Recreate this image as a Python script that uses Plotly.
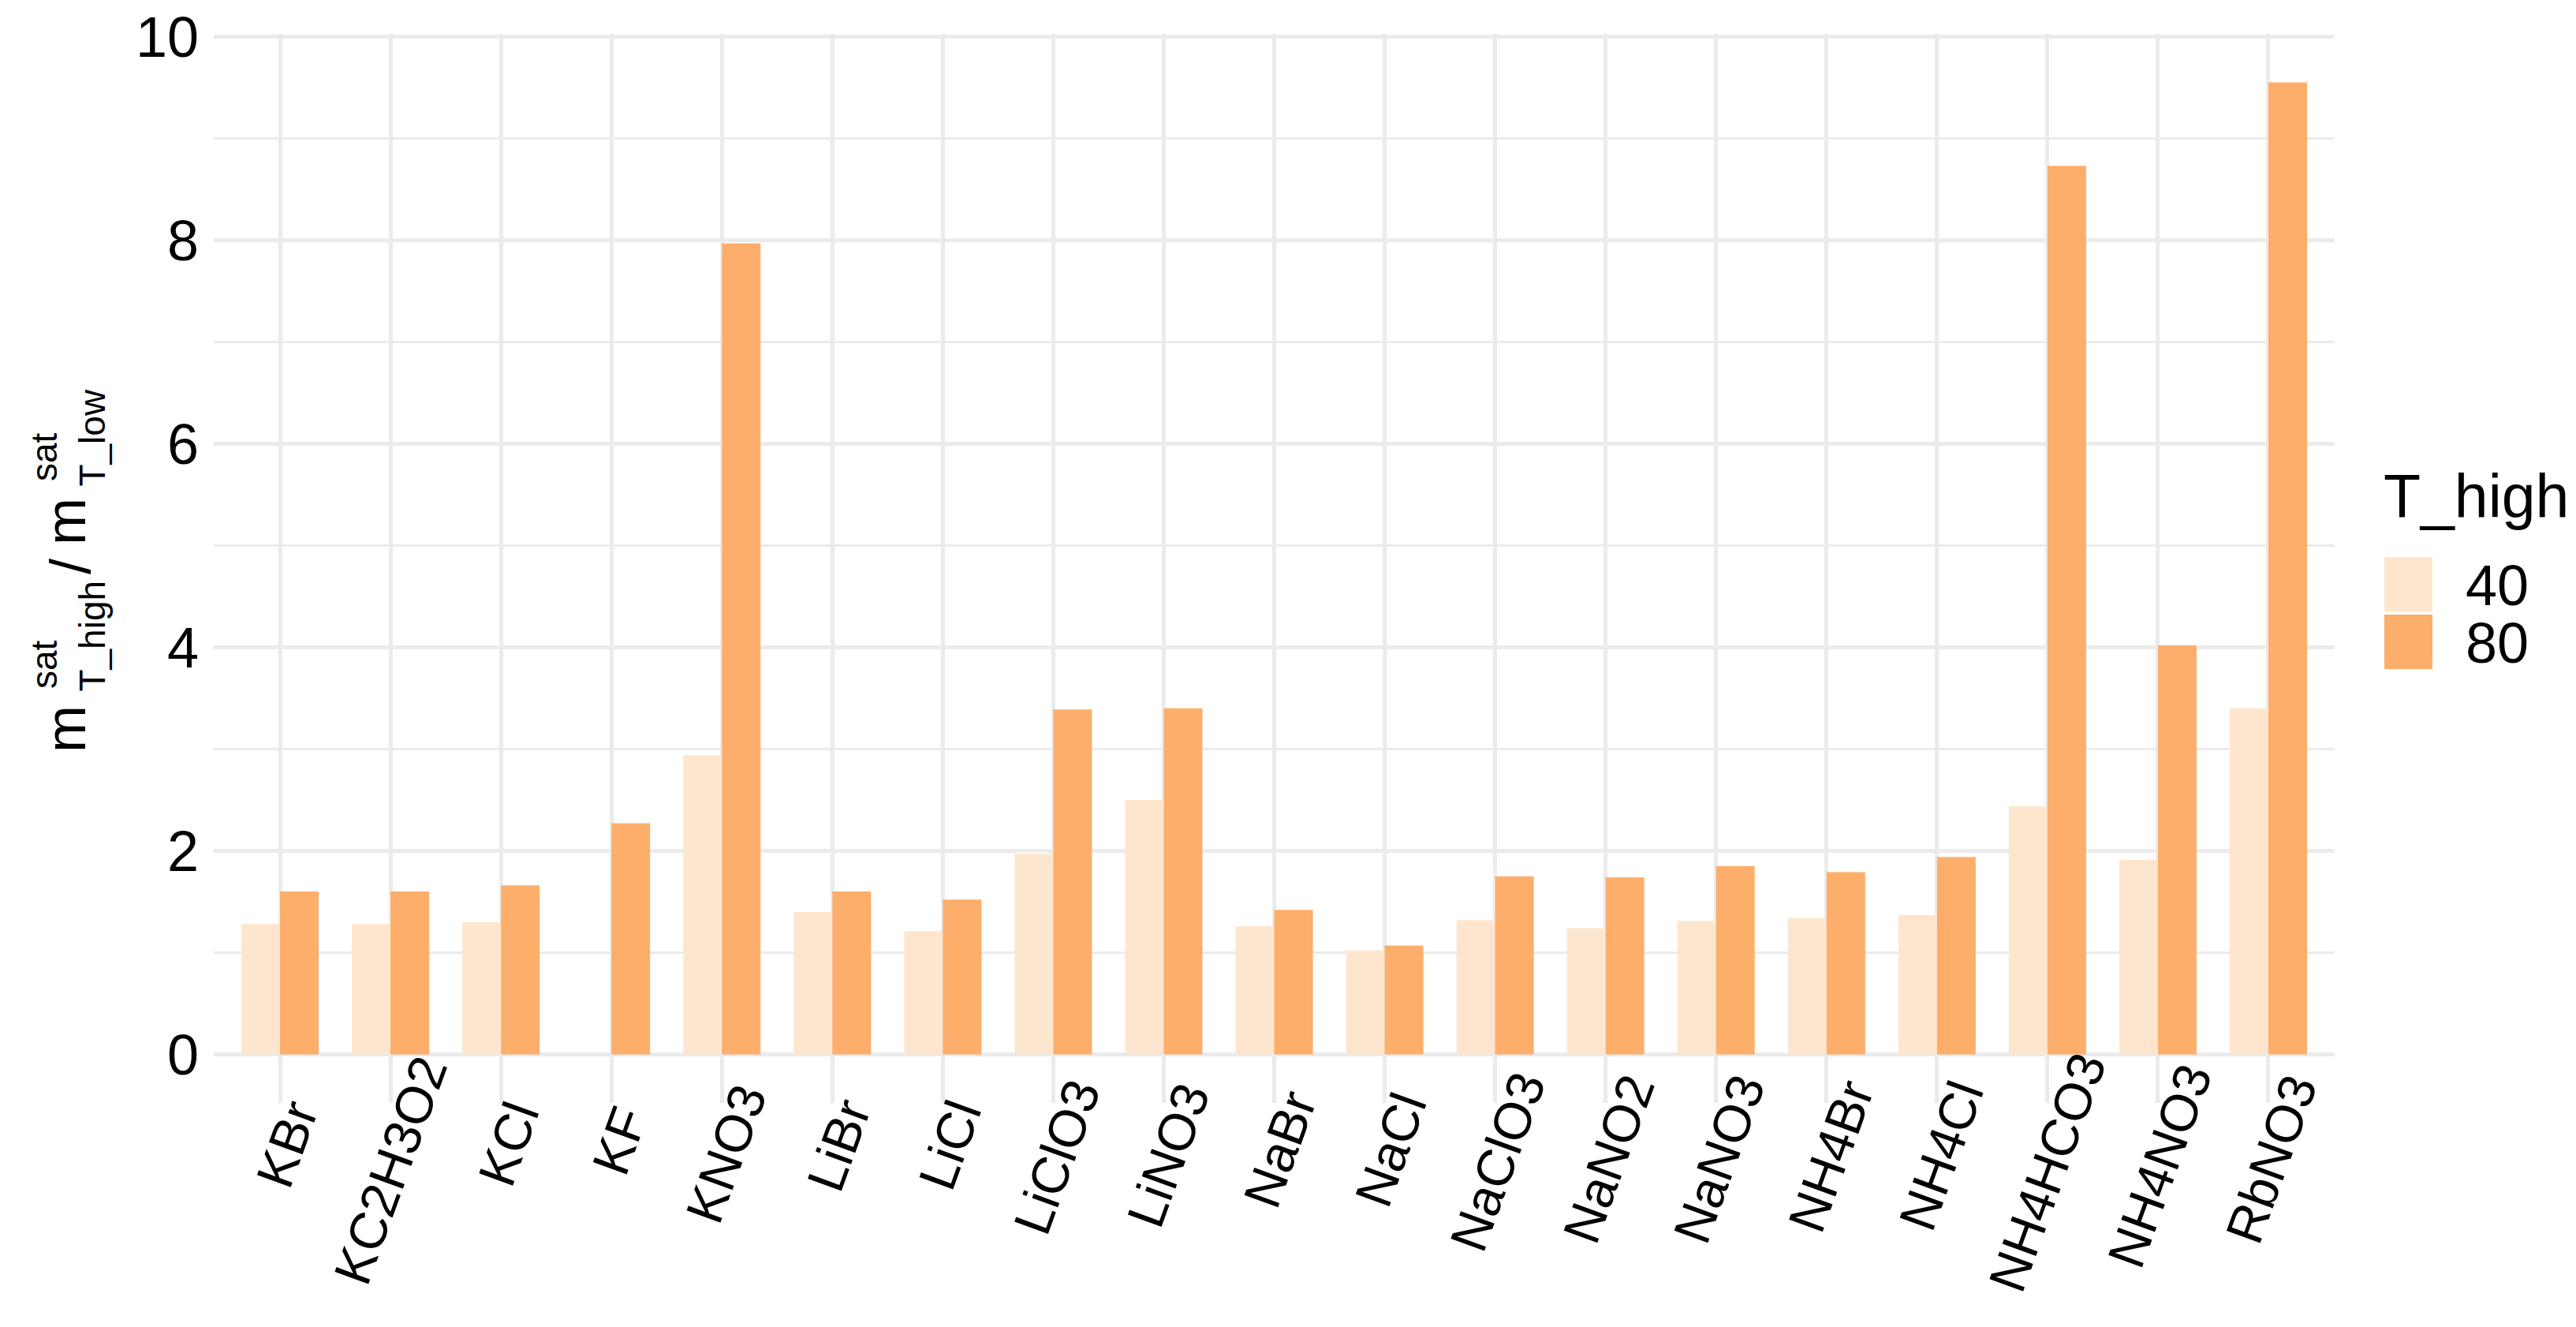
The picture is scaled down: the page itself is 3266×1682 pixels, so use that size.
import plotly.graph_objects as go

salts = ["KBr", "KC2H3O2", "KCl", "KF", "KNO3", "LiBr", "LiCl", "LiClO3", "LiNO3", "NaBr",
         "NaCl", "NaClO3", "NaNO2", "NaNO3", "NH4Br", "NH4Cl", "NH4HCO3", "NH4NO3", "RbNO3"]
ratio_40 = [1.28, 1.28, 1.30, None, 2.94, 1.40, 1.21, 1.97, 2.50, 1.26,
            1.02, 1.32, 1.24, 1.31, 1.34, 1.37, 2.44, 1.91, 3.40]
ratio_80 = [1.60, 1.60, 1.66, 2.27, 7.97, 1.60, 1.52, 3.39, 3.40, 1.42,
            1.07, 1.75, 1.74, 1.85, 1.79, 1.94, 8.73, 4.02, 9.55]
legend_title = "T_high"
legend_labels = ["40", "80"]
y_ticks = [0, 2, 4, 6, 8, 10]

# the page body has an 8px margin, so the figure is drawn 8px smaller and shifted
OFF = 8
W, H = 3266 - 2 * OFF, 1682 - 2 * OFF
L, T = 271 - OFF, 43 - OFF
PW, PH = 2689, 1355
R, B = W - L - PW, H - T - PH
FONT = "Liberation Sans"
colors = ["#FEE6CE", "#FDAE6B"]
grid = "#EBEBEB"

# advance widths (em) of the Helvetica/Arial glyphs used in the salt names,
# needed to place the rotated labels the way ggplot justifies them
char_em = {"K": .667, "B": .667, "r": .333, "C": .722, "2": .556, "H": .722, "3": .556,
           "O": .778, "l": .222, "F": .611, "N": .722, "L": .556, "i": .222, "a": .556,
           "b": .556, "4": .556, "R": .722}


def px2x(px):
    return (px - OFF - L) / PW


def px2y(py):
    return (T + PH - (py - OFF)) / PH


fig = go.Figure()
for name, vals, col in zip(legend_labels, [ratio_40, ratio_80], colors):
    fig.add_trace(go.Bar(x=salts, y=vals, name=name, marker=dict(color=col, line=dict(width=0))))

annotations = []

# x tick labels, rotated 70 degrees
for s in salts:
    n_em = sum(char_em[c] for c in s)
    annotations.append(dict(
        text=s, x=s, xref="x", y=px2y(1431 + 11.5 * n_em), yref="paper",
        xshift=14 - 3 * n_em, xanchor="center", yanchor="middle",
        textangle=-70, showarrow=False, borderpad=0,
        font=dict(family=FONT, size=66, color="black"),
    ))

# y-axis title: m^sat_T_high / m^sat_T_low, pieces stacked like plotmath
pieces = [
    ("m", 72, 108, 955),
    ("T_high", 46, 132, 878),
    ("sat", 46, 72, 874),
    ("/", 72, 114, 729),
    ("m", 72, 108, 692),
    ("T_low", 46, 132, 618),
    ("sat", 46, 72, 611),
]
for text, size, base_x, start_y in pieces:
    annotations.append(dict(
        text=text, x=px2x(base_x - 0.3465 * size), y=px2y(start_y),
        xref="paper", yref="paper", xanchor="center", yanchor="bottom",
        textangle=-90, showarrow=False, borderpad=0,
        font=dict(family=FONT, size=size, color="black"),
    ))

# legend drawn by hand so the keys match the ggplot size
annotations.append(dict(
    text=legend_title, x=px2x(3021), y=px2y(657 + 0.212 * 77),
    xref="paper", yref="paper", xanchor="left", yanchor="bottom",
    showarrow=False, borderpad=0, font=dict(family=FONT, size=77, color="black"),
))
shapes = []
for i, (lab, col) in enumerate(zip(legend_labels, colors)):
    y0 = 706 + i * 73
    shapes.append(dict(type="rect", xref="paper", yref="paper",
                       x0=px2x(3023), x1=px2x(3084), y0=px2y(y0), y1=px2y(y0 + 69),
                       fillcolor=col, line=dict(width=0)))
    annotations.append(dict(
        text=lab, x=px2x(3125), y=px2y(768 + i * 73 + 0.212 * 72),
        xref="paper", yref="paper", xanchor="left", yanchor="bottom",
        showarrow=False, borderpad=0, font=dict(family=FONT, size=72, color="black"),
    ))

fig.update_layout(
    width=W, height=H,
    margin=dict(l=L, r=R, t=T, b=B, autoexpand=False),
    paper_bgcolor="white", plot_bgcolor="white",
    barmode="group", bargap=0.3, bargroupgap=0,
    showlegend=False,
    font=dict(family=FONT, size=72, color="black"),
    annotations=annotations, shapes=shapes,
    xaxis=dict(
        range=[-0.6, len(salts) - 0.4], showgrid=True, gridcolor=grid, gridwidth=5,
        zeroline=False, showline=False, ticks="", showticklabels=False,
    ),
    yaxis=dict(
        range=[-0.4775, 10.0275], tickvals=y_ticks, showgrid=True, gridcolor=grid, gridwidth=5,
        zeroline=False, showline=False, ticks="",
        tickfont=dict(family=FONT, size=72, color="black"),
        ticklabelstandoff=18, ticklabeloverflow="allow",
        minor=dict(dtick=1, tick0=0, showgrid=True, gridcolor=grid, gridwidth=2.5, ticks=""),
    ),
)

fig.write_html("out.html")
